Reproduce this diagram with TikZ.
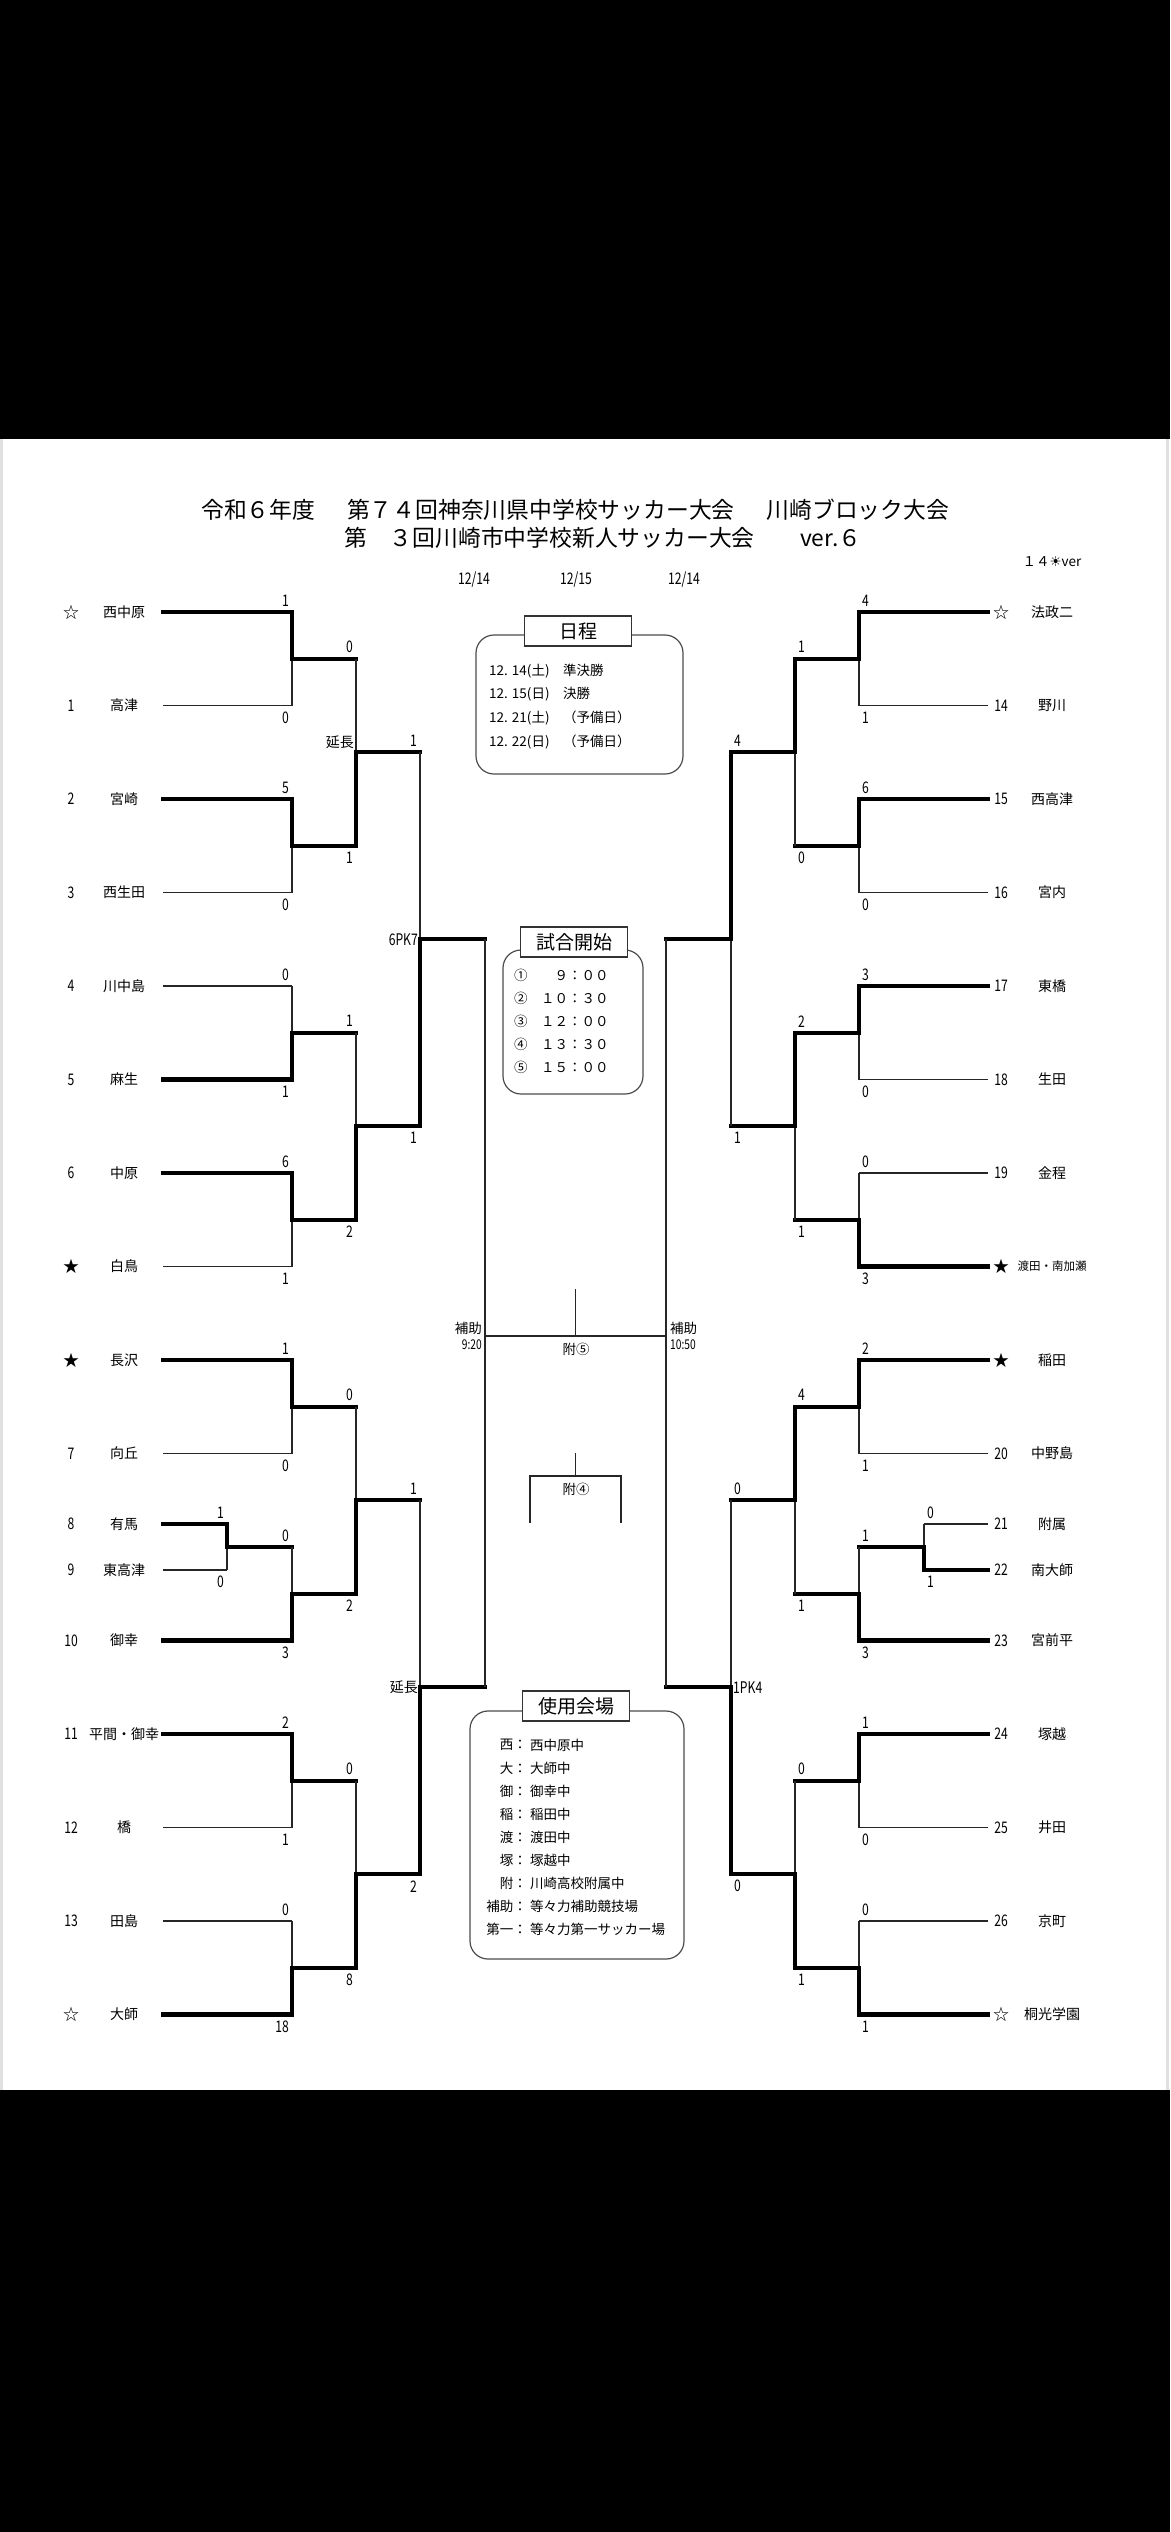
\documentclass[tikz,border=0pt]{standalone}
\usepackage{fontspec}
\setmainfont{Noto Sans CJK JP}
\newfontfamily\narrowjp[FakeStretch=0.76]{Noto Sans CJK JP}
\newfontfamily\symjp{DejaVu Sans}
\usepackage{tikz}

\newcommand{\wst}{{\rmfamily ☆}}
\newcommand{\bst}{{\rmfamily ★}}

% one match: entry x, join x, upper row, lower row, winner (1/2), scores, name
\newcommand{\duel}[8]{%
  \pgfmathsetmacro\dmid{(#3+#4)/2}%
  \ifdim#2pt>#1pt\def\dpos{east}\def\dgap{-3pt}\else\def\dpos{west}\def\dgap{3pt}\fi
  \ifnum#5=1 \def\dwin{#3}\def\dlose{#4}\else\def\dwin{#4}\def\dlose{#3}\fi
  \draw[loser in] (#1,\dlose) -- (#2,\dlose);
  \draw[lost] (#2,\dlose) -- (#2,\dmid);
  \draw[won] (#1,\dwin) -- (#2,\dwin) -- (#2,\dmid);
  \node[score,anchor=\dpos] (#8-u) at ([xshift=\dgap,yshift=11.5pt]#2,#3) {#6};
  \node[score,anchor=\dpos] (#8-l) at ([xshift=\dgap,yshift=-12pt]#2,#4) {#7};
}

\begin{document}
\begin{tikzpicture}[
    x=1pt,
    y=-1pt,
    won/.style={line width=4.3pt, line cap=rect},
    lost/.style={line width=1.4pt, black!85},
    loser in/.style=lost,
    score/.style={inner sep=0pt, font=\narrowjp\fontsize{16}{16}\selectfont},
    team/.style={inner sep=0pt, font=\fontsize{14}{14}\selectfont},
    info/.style={inner sep=0pt, font=\fontsize{13.5}{16}\selectfont},
    panel/.style={draw=black!70, line width=1.2pt, rounded corners=18pt},
    tag/.style={
        draw=black!80,
        line width=1.2pt,
        fill=white,
        inner sep=0pt,
        minimum width=107pt,
        minimum height=30pt,
        font=\fontsize{19}{19}\selectfont
    }
]

\useasboundingbox (0,0) rectangle (1170,2532);
\fill[black] (0,0) rectangle (1170,2532);
\fill[white] (0,439) rectangle (1170,2090);
\draw[black!12, line width=2.5pt] (1.5,439) -- (1.5,2090);
\draw[black!12, line width=2.5pt] (1167.5,439) -- (1167.5,2090);


\node[anchor=west, inner sep=0pt, font=\fontsize{22.8}{22.8}\selectfont] (title1) at (201,510)
    {令和６年度　\hspace{.4em}第７４回神奈川県中学校サッカー大会　\hspace{.4em}川崎ブロック大会};
\node[anchor=west, inner sep=0pt, font=\fontsize{22.8}{22.8}\selectfont] (title2) at (344,538)
    {第　３回川崎市中学校新人サッカー大会　　ver.６};
\node[info] (ver) at (1052,562) {１４{\symjp ☀}ver};

\node[score] (day1) at (474,580) {12/14};
\node[score] (day2) at (576,580) {12/15};
\node[score] (day3) at (684,580) {12/14};


% left half
\begin{scope}[yshift=-612pt, y=-93.5pt]
\foreach \r/\no/\nm [count=\k] in {0/\wst/西中原, 1/1/高津, 2/2/宮崎, 3/3/西生田,
    4/4/川中島, 5/5/麻生, 6/6/中原, 7/\bst/白鳥, 8/\bst/長沢, 9/7/向丘,
    9.754/8/有馬, 10.246/9/東高津, 11/10/御幸, 12/11/平間・御幸, 13/12/橋,
    14/13/田島, 15/\wst/大師}
{
    \node[score] (lno\k) at (71,\r) {\no};
    \node[team] (lteam\k) at (124,\r) {\nm};
}

\duel{163}{292}{0}{1}{1}{1}{0}{a1}
\duel{163}{292}{2}{3}{1}{5}{0}{a2}
\duel{163}{292}{4}{5}{2}{0}{1}{a3}
\duel{163}{292}{6}{7}{1}{6}{1}{a4}
\duel{163}{292}{8}{9}{1}{1}{0}{a5}
\duel{163}{227}{9.754}{10.246}{1}{1}{0}{a6}
\duel{163}{292}{12}{13}{1}{2}{1}{a8}
\duel{163}{292}{14}{15}{2}{0}{18}{a9}
\draw[won] (163,11) -- (227,11);

\tikzset{loser in/.style=won}
\duel{227}{292}{10}{11}{2}{0}{3}{a7}
\duel{292}{356}{0.5}{2.5}{2}{0}{1}{b1}
\duel{292}{356}{4.5}{6.5}{2}{1}{2}{b2}
\duel{292}{356}{8.5}{10.5}{2}{0}{2}{b3}
\duel{292}{356}{12.5}{14.5}{2}{0}{8}{b4}
\duel{356}{420}{1.5}{5.5}{2}{1}{1}{c1}
\duel{356}{420}{9.5}{13.5}{2}{1}{2}{c2}

\draw[won] (420,3.5) -- (485,3.5);
\draw[won] (420,11.5) -- (485,11.5);
\draw[lost] (485,3.5) -- (485,11.5);

\node[team, anchor=south east] (ext1) at ([xshift=-2pt,yshift=3pt]356,1.5) {延長};
\node[score, anchor=east] (pk1) at ([xshift=-2pt]420,3.5) {6PK7};
\node[team, anchor=east] (ext2) at ([xshift=-2pt]420,11.5) {延長};
\end{scope}


% right half
\begin{scope}[yshift=-612pt, y=-93.5pt]
\foreach \r/\no/\nm [count=\k] in {0/\wst/法政二, 1/14/野川, 2/15/西高津, 3/16/宮内,
    4/17/東橋, 5/18/生田, 6/19/金程, 7/\bst/{\fontsize{11.5}{11.5}\selectfont 渡田・南加瀬},
    8/\bst/稲田, 9/20/中野島, 9.754/21/附属, 10.246/22/南大師, 11/23/宮前平,
    12/24/塚越, 13/25/井田, 14/26/京町, 15/\wst/桐光学園}
{
    \node[score] (rno\k) at (1001,\r) {\no};
    \node[team] (rteam\k) at (1052,\r) {\nm};
}

\duel{988}{859}{0}{1}{1}{4}{1}{d1}
\duel{988}{859}{2}{3}{1}{6}{0}{d2}
\duel{988}{859}{4}{5}{1}{3}{0}{d3}
\duel{988}{859}{6}{7}{2}{0}{3}{d4}
\duel{988}{859}{8}{9}{1}{2}{1}{d5}
\duel{988}{924}{9.754}{10.246}{2}{0}{1}{d6}
\duel{988}{859}{12}{13}{1}{1}{0}{d8}
\duel{988}{859}{14}{15}{2}{0}{1}{d9}
\draw[won] (988,11) -- (924,11);

\tikzset{loser in/.style=won}
\duel{924}{859}{10}{11}{2}{1}{3}{d7}
\duel{859}{795}{0.5}{2.5}{1}{1}{0}{e1}
\duel{859}{795}{4.5}{6.5}{1}{2}{1}{e2}
\duel{859}{795}{8.5}{10.5}{1}{4}{1}{e3}
\duel{859}{795}{12.5}{14.5}{2}{0}{1}{e4}
\duel{795}{731}{1.5}{5.5}{1}{4}{1}{f1}
\duel{795}{731}{9.5}{13.5}{2}{0}{0}{f2}

\draw[won] (731,3.5) -- (666,3.5);
\draw[won] (731,11.5) -- (666,11.5);
\draw[lost] (666,3.5) -- (666,11.5);

\node[score, anchor=west] (pk2) at ([xshift=2pt]731,11.5) {1PK4};
\end{scope}


% final and extra games
\draw[lost] (485,1336) -- (666,1336);
\draw[lost] (575.5,1289) -- (575.5,1336);
\node[info] (fin5) at (576,1349) {附⑤};
\node[info, anchor=east, align=right] (aux1) at (482,1336) {補助\\{\narrowjp 9:20}};
\node[info, anchor=west, align=left] (aux2) at (670,1336) {補助\\{\narrowjp 10:50}};

\draw[lost] (530,1523) -- (530,1476) -- (621,1476) -- (621,1523);
\draw[lost] (575.5,1453) -- (575.5,1476);
\node[info] (fin4) at (576,1489) {附④};


% schedule
\draw[panel] (476,635) rectangle (683,774);
\node[tag] (sched) at (578,631) {日程};
\foreach \t [count=\i from 0] in {12. 14(土)　準決勝, 12. 15(日)　決勝,
    12. 21(土)　（予備日）, 12. 22(日)　（予備日）}
    \node[info, anchor=west] (sched\i) at (489,671+23.6*\i) {\t};

% kick-off times
\draw[panel] (503,950) rectangle (643,1094);
\node[tag] (kick) at (574,942) {試合開始};
\foreach \t [count=\i from 0] in {①　　９：００, ②　１０：３０, ③　１２：００,
    ④　１３：３０, ⑤　１５：００}
    \node[info, anchor=west] (kick\i) at (514,975+23*\i) {\t};

% venues
\draw[panel] (470,1711) rectangle (684,1959);
\node[tag] (venue) at (576,1706) {使用会場};
\foreach \k/\v [count=\i from 0] in {西：/西中原中, 大：/大師中, 御：/御幸中,
    稲：/稲田中, 渡：/渡田中, 塚：/塚越中, 附：/川崎高校附属中,
    補助：/等々力補助競技場, 第一：/等々力第一サッカー場}
{
    \node[info, anchor=east] (vkey\i) at (527,1745+23.1*\i) {\k};
    \node[info, anchor=west] (vname\i) at (530,1745+23.1*\i) {\v};
}

\end{tikzpicture}
\end{document}
